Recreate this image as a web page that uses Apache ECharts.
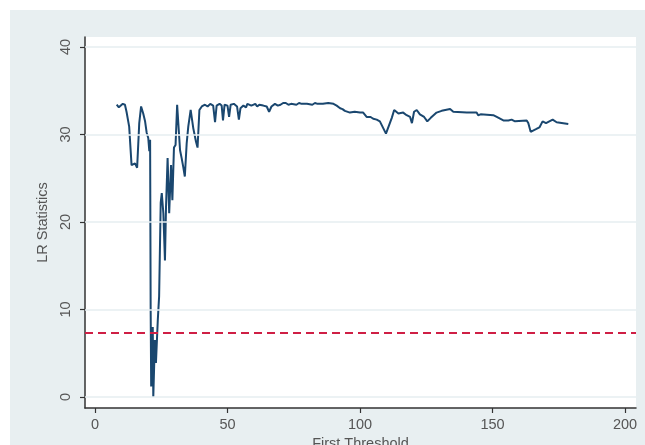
<!DOCTYPE html>
<html>
<head>
<meta charset="utf-8">
<script src="https://cdn.jsdelivr.net/npm/echarts@6/dist/echarts.min.js"></script>
<style>
html,body{margin:0;padding:0;background:#fff;}
#chart{width:645px;height:445px;}
</style>
</head>
<body>
<div id="chart"></div>
<script>
// ---- data ----
var thresholds = [8.2,9.0,9.6,10.5,11.3,11.9,12.9,13.8,15.1,15.9,16.7,17.4,18.2,18.9,19.5,20.1,20.5,20.8,21.0,21.2,21.8,22.0,22.6,23.0,23.7,24.2,24.8,25.2,25.8,26.4,26.8,27.4,28.0,28.7,29.2,29.8,30.4,31.0,31.6,32.1,32.7,33.3,33.9,34.6,35.2,36.1,37.1,38.1,38.7,39.4,40.3,41.5,42.5,43.5,44.6,45.3,45.9,47.0,47.8,48.3,48.9,50.0,50.6,51.2,52.4,53.6,54.3,54.9,56.0,57.0,57.5,58.2,59.0,60.5,61.2,62.0,63.5,64.8,65.7,66.6,67.9,69.0,70.0,71.0,72.0,73.0,74.0,76.0,77.0,78.0,80.0,82.0,83.0,84.0,86.0,88.0,90.0,91.2,92.5,93.4,94.3,95.0,96.2,98.0,100.0,101.2,102.5,104.0,105.0,106.3,107.5,108.2,109.8,112.0,112.9,114.5,116.3,117.6,118.9,119.6,120.4,121.4,122.6,124.2,125.4,126.7,128.9,130.8,134.0,135.2,140.3,144.0,144.6,145.3,145.5,150.3,151.6,154.1,156.0,157.2,158.5,162.9,163.5,164.4,166.4,167.7,168.9,170.2,172.7,174.2,178.6];
var lrStats = [33.4,33.1,33.2,33.5,33.4,32.6,30.9,26.5,26.7,26.2,31.3,33.2,32.4,31.5,30.2,29.6,28.1,29.4,10.3,1.2,8.0,0.0,6.5,3.9,8.8,11.5,22.2,23.3,21.0,15.6,21.7,27.3,21.0,26.5,22.5,28.5,28.8,33.4,33.6,28.2,27.3,26.3,25.2,29.0,30.9,32.8,30.7,29.2,28.5,32.8,33.2,33.4,33.2,33.5,33.3,31.4,33.3,33.5,33.3,31.6,33.4,33.3,32.0,33.4,33.5,33.2,31.7,33.0,33.3,33.1,33.5,33.3,33.3,33.5,33.2,33.4,33.3,33.2,32.6,33.2,33.5,33.3,33.4,33.6,33.6,33.4,33.5,33.4,33.6,33.5,33.5,33.4,33.6,33.5,33.5,33.6,33.5,33.3,33.0,32.9,32.7,32.8,32.5,32.6,32.5,32.5,32.0,32.0,31.8,31.7,31.5,31.6,30.1,31.9,32.8,32.4,32.5,32.2,32.0,31.3,32.6,32.8,32.3,32.0,31.5,31.9,32.5,32.7,32.9,32.6,32.5,32.5,32.2,32.0,32.3,32.2,32.0,31.6,31.6,31.7,31.5,31.6,31.3,30.3,30.6,30.8,31.5,31.3,31.7,31.4,31.2];
var criticalValue = 7.3;
var xTicks = [0, 50, 100, 150, 200];
var yTicks = [0, 10, 20, 30, 40];
var xTitle = 'First Threshold';
var yTitle = 'LR Statistics';

var points = thresholds.map(function (x, i) { return [x, lrStats[i]]; });

var chart = echarts.init(document.getElementById('chart'), null, {renderer: 'canvas'});
var labelFont = 'Liberation Sans, Arial, sans-serif';
chart.setOption({
  animation: false,
  backgroundColor: '#ffffff',
  graphic: [{
    type: 'rect', z: -10, silent: true,
    shape: {x: 10, y: 10, width: 635, height: 435},
    style: {fill: '#e8eff1'}
  }],
  grid: {
    left: 85, right: 9, top: 37, bottom: 37,
    containLabel: false, outerBoundsMode: 'none',
    show: true, backgroundColor: '#ffffff', borderWidth: 0
  },
  xAxis: {
    type: 'value', min: -3.77, max: 204.15,
    name: xTitle, nameLocation: 'middle', nameGap: 27,
    nameTextStyle: {fontFamily: labelFont, fontSize: 14.5, color: '#555'},
    axisLine: {show: true, onZero: false, lineStyle: {color: '#333', width: 1.5}},
    axisTick: {show: true, customValues: xTicks, length: 5, lineStyle: {color: '#333', width: 1.2}},
    axisLabel: {show: true, customValues: xTicks, margin: 9, fontFamily: labelFont, fontSize: 14.5, color: '#555'},
    splitLine: {show: false}
  },
  yAxis: {
    type: 'value', min: -1.26, max: 41.14,
    name: yTitle, nameLocation: 'middle', nameGap: 31, nameRotate: 90,
    nameTextStyle: {fontFamily: labelFont, fontSize: 14.5, color: '#555'},
    axisLine: {show: true, onZero: false, lineStyle: {color: '#333', width: 1.5}},
    axisTick: {show: true, customValues: yTicks, length: 5, lineStyle: {color: '#333', width: 1.2}},
    axisLabel: {show: true, customValues: yTicks, rotate: 90, margin: 12, fontFamily: labelFont, fontSize: 14.5, color: '#555'},
    splitLine: {show: false}
  },
  series: [
    {
      type: 'line', data: [], silent: true,
      markLine: {
        silent: true, symbol: 'none', label: {show: false},
        lineStyle: {color: '#e6eef0', width: 1.5, type: 'solid'},
        data: yTicks.map(function (v) { return {yAxis: v}; })
      }
    },
    {
      type: 'line', data: points, showSymbol: false, symbol: 'none',
      lineStyle: {color: '#1a476f', width: 2},
      z: 3
    },
    {
      type: 'line', data: [], silent: true,
      markLine: {
        silent: true, symbol: 'none', label: {show: false},
        lineStyle: {color: '#cf1f45', width: 2, type: [8, 5]},
        data: [{yAxis: criticalValue}]
      },
      z: 4
    }
  ]
});
</script>
</body>
</html>
